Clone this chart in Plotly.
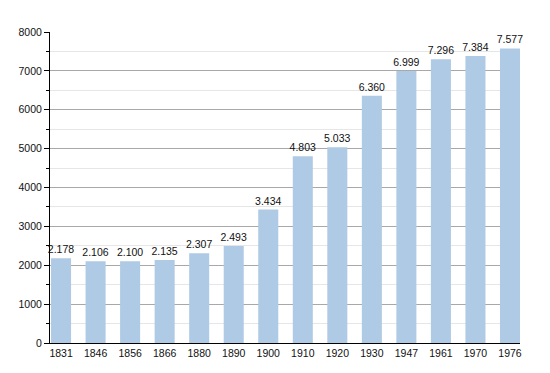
import plotly.graph_objects as go

years = ["1831", "1846", "1856", "1866", "1880", "1890", "1900", "1910", "1920", "1930", "1947", "1961", "1970", "1976"]
population = [2178, 2106, 2100, 2135, 2307, 2493, 3434, 4803, 5033, 6360, 6999, 7296, 7384, 7577]
labels = [f"{v:,}".replace(",", ".") for v in population]
xpos = list(range(len(years)))

fig = go.Figure()
fig.add_trace(go.Bar(
    x=xpos, y=population, width=0.58,
    marker=dict(color="#afcae4", line=dict(width=0)),
    text=labels, textposition="outside", cliponaxis=False, constraintext="none",
    textfont=dict(size=10.5, color="#111111", family="Liberation Sans, Arial, sans-serif"),
))
fig.update_layout(
    width=550, height=373,
    margin=dict(l=42, r=38, t=24, b=38, autoexpand=False),
    plot_bgcolor="white", paper_bgcolor="white",
    showlegend=False,
    font=dict(family="Liberation Sans, Arial, sans-serif", size=10.5, color="#111111"),
)
fig.update_xaxes(
    tickmode="array", tickvals=xpos, ticktext=years, automargin=False,
    range=[-0.32, 13.29], showgrid=False, showline=True, linecolor="black", linewidth=1,
    ticks="", zeroline=False, tickfont=dict(size=10.5),
)
fig.update_yaxes(
    range=[0, 8000], tickmode="linear", tick0=0, dtick=1000, automargin=False,
    showgrid=True, gridcolor="#a8a8a8", gridwidth=1,
    showline=True, linecolor="black", linewidth=1,
    ticks="outside", ticklen=5, tickcolor="black",
    minor=dict(dtick=500, showgrid=True, gridcolor="#e6e6e6", ticks="outside", ticklen=3, tickcolor="black"),
    zeroline=False, tickfont=dict(size=10.5),
)
fig.write_html("out.html")
